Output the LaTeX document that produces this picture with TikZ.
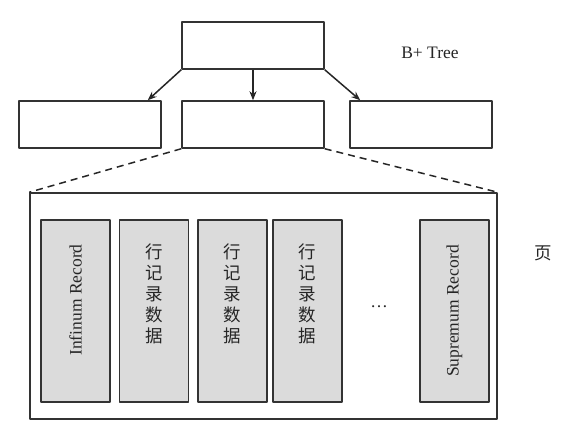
\documentclass[tikz,border=0pt]{standalone}
\usepackage{fontspec}
\setmainfont{Liberation Serif}
\newfontfamily\cjk{Noto Sans CJK SC}
\usetikzlibrary{arrows.meta}
\begin{document}
\begin{tikzpicture}[x=1pt,y=-1pt,line join=round,>={Stealth[length=9pt,width=7pt]},
	box/.style={draw=black!80,line width=1.5pt,minimum width=142pt,minimum height=47pt,inner sep=0pt},
	rec/.style={draw=black!80,fill=black!14,line width=1.5pt,minimum width=69pt,minimum height=182pt,inner sep=0pt},
	txt/.style={text=black!85,font=\fontsize{17.5}{21}\selectfont},
	cjktxt/.style={text=black!85,font=\cjk\fontsize{17.5}{21}\selectfont,align=center}]
	\useasboundingbox (0,0) rectangle (566,431);
	% Các nút của cây B+
	\node[box] (root) at (253,45.5) {};
	\node[box] (left) at (90,124.5) {};
	\node[box] (mid) at (253,124.5) {};
	\node[box] (right) at (421,124.5) {};
	\node[txt] (bt) at (430,53) {B+ Tree};
	\draw[->,line width=1.5pt,draw=black!85] (root.south west) -- ([xshift=-14pt]left.north east);
	\draw[->,line width=1.5pt,draw=black!85] (root.south) -- (mid.north);
	\draw[->,line width=1.5pt,draw=black!85] (root.south east) -- ([xshift=11pt]right.north west);
	% Trang và các bản ghi
	\node[draw=black!80,line width=1.5pt,minimum width=467pt,minimum height=226pt,inner sep=0pt] (page) at (263.5,306) {};
	\draw[dashed,dash pattern=on 7pt off 5pt,line width=1.5pt,draw=black!85] (mid.south west) -- (page.north west) (mid.south east) -- (page.north east);
	\node[cjktxt] (ye) at (543,253) {页};
	\node[rec] (rec1) at (75.5,311) {};
	\node[rec] (rec2) at (154,311) {};
	\node[rec] (rec3) at (232.5,311) {};
	\node[rec] (rec4) at (307.5,311) {};
	\node[rec] (rec5) at (454.5,311) {};
	\node[txt,rotate=90] (inf) at ([yshift=11pt]rec1.center) {Infinum Record};
	\node[txt,rotate=90] (sup) at (rec5.center) {Supremum Record};
	\foreach \i in {2,3,4}
		\node[cjktxt] (row\i) at ([yshift=17pt]rec\i.center) {行\\记\\录\\数\\据};
	\node[txt] (dots) at (379,307) {\ldots};
\end{tikzpicture}
\end{document}
